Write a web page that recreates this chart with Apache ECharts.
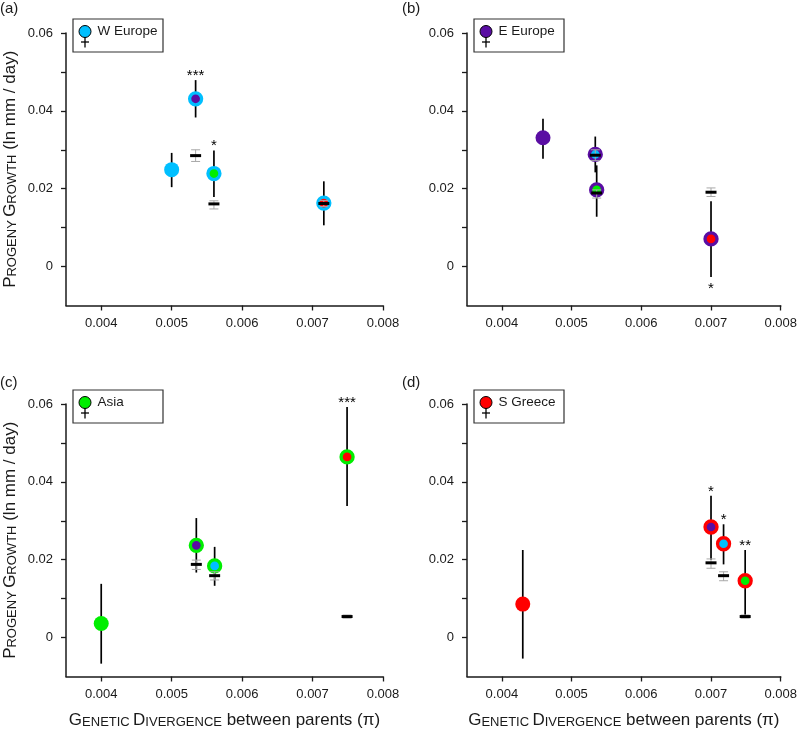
<!DOCTYPE html>
<html><head><meta charset="utf-8">
<script src="https://cdn.jsdelivr.net/npm/echarts@6/dist/echarts.min.js"></script>
<style>html,body{margin:0;padding:0;background:#fff}#c{width:800px;height:732px}</style>
</head><body><div id="c"></div>
<script>
const FONT = '"Liberation Sans", Arial, Helvetica, sans-serif';

// ---- data ----
const populations = ['W Europe', 'E Europe', 'Asia', 'S Greece'];
const popColors = ['#00BFFF', '#5A0DA3', '#00EE00', '#FF0000'];
const panelLabels = ['(a)', '(b)', '(c)', '(d)'];

const female = ['W Europe','W Europe','W Europe','W Europe',
                'E Europe','E Europe','E Europe','E Europe',
                'Asia','Asia','Asia','Asia',
                'S Greece','S Greece','S Greece','S Greece'];
const male = ['W Europe','E Europe','Asia','S Greece',
              'E Europe','W Europe','Asia','S Greece',
              'Asia','E Europe','W Europe','S Greece',
              'S Greece','E Europe','W Europe','Asia'];
const divergence = [0.00500,0.00534,0.00560,0.00716,
                    0.00459,0.00534,0.00536,0.00700,
                    0.00400,0.00535,0.00561,0.00749,
                    0.00430,0.00700,0.00718,0.00749];
const growth = [0.0249,0.0431,0.0239,0.0163,
                0.0331,0.0288,0.0197,0.0071,
                0.0036,0.0237,0.0184,0.0464,
                0.0086,0.0284,0.0241,0.0146];
const growthLow = [0.0204,0.0383,0.0179,0.0106,
                   0.0277,0.0242,0.0128,-0.0027,
                   -0.0067,0.0167,0.0133,0.0338,
                   -0.0054,0.0199,0.0188,0.0054];
const growthHigh = [0.0292,0.0479,0.0298,0.0219,
                    0.0380,0.0334,0.0260,0.0168,
                    0.0138,0.0307,0.0233,0.0592,
                    0.0225,0.0364,0.0291,0.0225];
const expected = [null,0.0285,0.0161,0.0162,
                  null,0.0286,0.0189,0.0191,
                  null,0.0188,0.0159,0.0054,
                  null,0.0192,0.0159,0.0054];
const expectedLow = [null,0.0270,0.0148,0.0154,
                     null,0.0272,0.0176,0.0180,
                     null,0.0175,0.0148,0.0050,
                     null,0.0178,0.0146,0.0050];
const expectedHigh = [null,0.0300,0.0169,0.0170,
                      null,0.0300,0.0197,0.0202,
                      null,0.0199,0.0169,0.0058,
                      null,0.0202,0.0169,0.0058];
const significance = ['','***','*','',
                      '','','','*',
                      '','','','***',
                      '','*','*','**'];
const significanceSide = ['','above','above','',
                          '','','','below',
                          '','','','above',
                          '','above','above','above'];

const xTicks = [0.004, 0.005, 0.006, 0.007, 0.008];
const yTicks = [0, 0.01, 0.02, 0.03, 0.04, 0.05, 0.06];
const yLabels = [0, 0.02, 0.04, 0.06];
const xRange = [0.0035, 0.008];
const yRange = [-0.01, 0.06];

// ---- layout ----
const gridBoxes = [
  {left: 66, top: 33, width: 317, height: 272.5},
  {left: 467, top: 33, width: 317, height: 272.5},
  {left: 66, top: 404, width: 317, height: 272.5},
  {left: 467, top: 404, width: 317, height: 272.5}
];
const INK = '#1a1a1a';
const richTitle = {
  b: {fontSize: 17, fontFamily: FONT, color: INK, verticalAlign: 'bottom'},
  s: {fontSize: 13, fontFamily: FONT, color: INK, verticalAlign: 'bottom'}
};
const xTitle = '{b|G}{s|ENETIC} {b|D}{s|IVERGENCE}{b| between parents (π)}';
const yTitle = '{b|P}{s|ROGENY} {b|G}{s|ROWTH}{b| (ln mm / day)}';

const xAxes = gridBoxes.map((g, i) => ({
  type: 'value', gridIndex: i, min: xRange[0], max: xRange[1],
  axisLine: {show: true, onZero: false, lineStyle: {color: INK, width: 1.5}},
  axisTick: {show: true, length: 5, customValues: xTicks, lineStyle: {color: INK, width: 1.3}},
  axisLabel: {customValues: xTicks, formatter: v => v.toFixed(3), margin: 11,
              fontSize: 13, color: INK, fontFamily: FONT},
  splitLine: {show: false},
  name: i >= 2 ? xTitle : '', nameLocation: 'middle', nameGap: 35,
  nameTextStyle: {fontFamily: FONT, color: INK, rich: richTitle}
}));
const yAxes = gridBoxes.map((g, i) => ({
  type: 'value', gridIndex: i, min: yRange[0], max: yRange[1],
  axisLine: {show: true, onZero: false, lineStyle: {color: INK, width: 1.5}},
  axisTick: {show: true, length: 5, customValues: yTicks, lineStyle: {color: INK, width: 1.3}},
  axisLabel: {customValues: yLabels, formatter: v => (Math.abs(v) < 1e-9 ? '0' : v.toFixed(2)),
              margin: 13, fontSize: 13, color: INK, fontFamily: FONT},
  splitLine: {show: false},
  name: i % 2 === 0 ? yTitle : '', nameLocation: 'middle', nameRotate: 90, nameGap: 47,
  nameTextStyle: {fontFamily: FONT, color: INK, rich: richTitle}
}));

const series = [];
populations.forEach((pop, p) => {
  const ids = female.map((f, i) => (f === pop ? i : -1)).filter(i => i >= 0);
  // error bars
  series.push({
    type: 'custom', xAxisIndex: p, yAxisIndex: p, z: 1, silent: true,
    data: ids.map(i => [divergence[i], growthLow[i], growthHigh[i]]),
    renderItem: (params, api) => {
      const a = api.coord([api.value(0), api.value(1)]);
      const b = api.coord([api.value(0), api.value(2)]);
      return {type: 'line', shape: {x1: a[0], y1: a[1], x2: b[0], y2: b[1]},
              style: {stroke: '#000', lineWidth: 1.7}};
    }
  });
  // crosses (outer ring = female, centre = male)
  series.push({
    type: 'scatter', xAxisIndex: p, yAxisIndex: p, z: 2, silent: true,
    data: ids.map(i => {
      const same = male[i] === female[i];
      const mc = popColors[populations.indexOf(male[i])];
      return {value: [divergence[i], growth[i]], symbolSize: same ? 15 : 12,
              itemStyle: {color: mc, borderColor: popColors[p], borderWidth: same ? 0 : 3.3, opacity: 1}};
    })
  });
  // expected values
  const eIds = ids.filter(i => expected[i] !== null);
  series.push({
    type: 'custom', xAxisIndex: p, yAxisIndex: p, z: 3, silent: true,
    data: eIds.map(i => [divergence[i], expected[i], expectedLow[i], expectedHigh[i]]),
    renderItem: (params, api) => {
      const c = api.coord([api.value(0), api.value(1)]);
      const lo = api.coord([api.value(0), api.value(2)]);
      const hi = api.coord([api.value(0), api.value(3)]);
      const grey = {stroke: '#a8a8a8', lineWidth: 1};
      return {type: 'group', children: [
        {type: 'line', shape: {x1: c[0], y1: lo[1], x2: c[0], y2: hi[1]}, style: grey},
        {type: 'line', shape: {x1: c[0] - 4.5, y1: lo[1], x2: c[0] + 4.5, y2: lo[1]}, style: grey},
        {type: 'line', shape: {x1: c[0] - 4.5, y1: hi[1], x2: c[0] + 4.5, y2: hi[1]}, style: grey},
        {type: 'rect', shape: {x: c[0] - 5.5, y: c[1] - 1.5, width: 11, height: 3}, style: {fill: '#000'}}
      ]};
    }
  });
  // significance stars
  const sIds = ids.filter(i => significance[i]);
  series.push({
    type: 'custom', xAxisIndex: p, yAxisIndex: p, z: 4, silent: true,
    data: sIds.map(i => [divergence[i], growthLow[i], growthHigh[i]]),
    renderItem: (params, api) => {
      const i = sIds[params.dataIndex];
      const above = significanceSide[i] === 'above';
      const pt = api.coord([api.value(0), above ? api.value(2) : api.value(1)]);
      return {type: 'text', x: pt[0], y: above ? pt[1] - 4.5 : pt[1] + 11.5,
              style: {text: significance[i], fontSize: 15, fontFamily: FONT, fill: '#000',
                      align: 'center', verticalAlign: 'middle'}};
    }
  });
});

// ---- graphics: panel labels and legends ----
const graphics = [];
const labelPos = [[0, 9], [402, 9], [0, 383], [402, 383]];
panelLabels.forEach((t, p) => {
  graphics.push({type: 'text', left: labelPos[p][0], top: labelPos[p][1] - 8,
    style: {text: t, fontSize: 15, fontFamily: FONT, fill: INK}});
});
gridBoxes.forEach((g, p) => {
  const bx = g.left + 7, by = g.top - 14;
  const cx = bx + 12, cy = by + 12.5;
  graphics.push({type: 'rect', shape: {x: bx, y: by, width: 90, height: 33},
    style: {fill: '#fff', stroke: '#333', lineWidth: 1.2}, z: 10});
  graphics.push({type: 'line', shape: {x1: cx, y1: cy + 5, x2: cx, y2: cy + 16},
    style: {stroke: '#000', lineWidth: 1.3}, z: 11});
  graphics.push({type: 'line', shape: {x1: cx - 4, y1: cy + 10.5, x2: cx + 4, y2: cy + 10.5},
    style: {stroke: '#000', lineWidth: 1.3}, z: 11});
  graphics.push({type: 'circle', shape: {cx: cx, cy: cy, r: 6},
    style: {fill: popColors[p], stroke: '#000', lineWidth: 1}, z: 12});
  graphics.push({type: 'text', x: bx + 24.5, y: cy, z: 12,
    style: {text: populations[p], fontSize: 13.5, fontFamily: FONT, fill: INK, verticalAlign: 'middle'}});
});

const chart = echarts.init(document.getElementById('c'), null, {renderer: 'canvas'});
chart.setOption({
  animation: false,
  backgroundColor: '#fff',
  grid: gridBoxes.map(g => Object.assign({containLabel: false}, g)),
  xAxis: xAxes,
  yAxis: yAxes,
  series: series,
  graphic: graphics
});
</script></body></html>
